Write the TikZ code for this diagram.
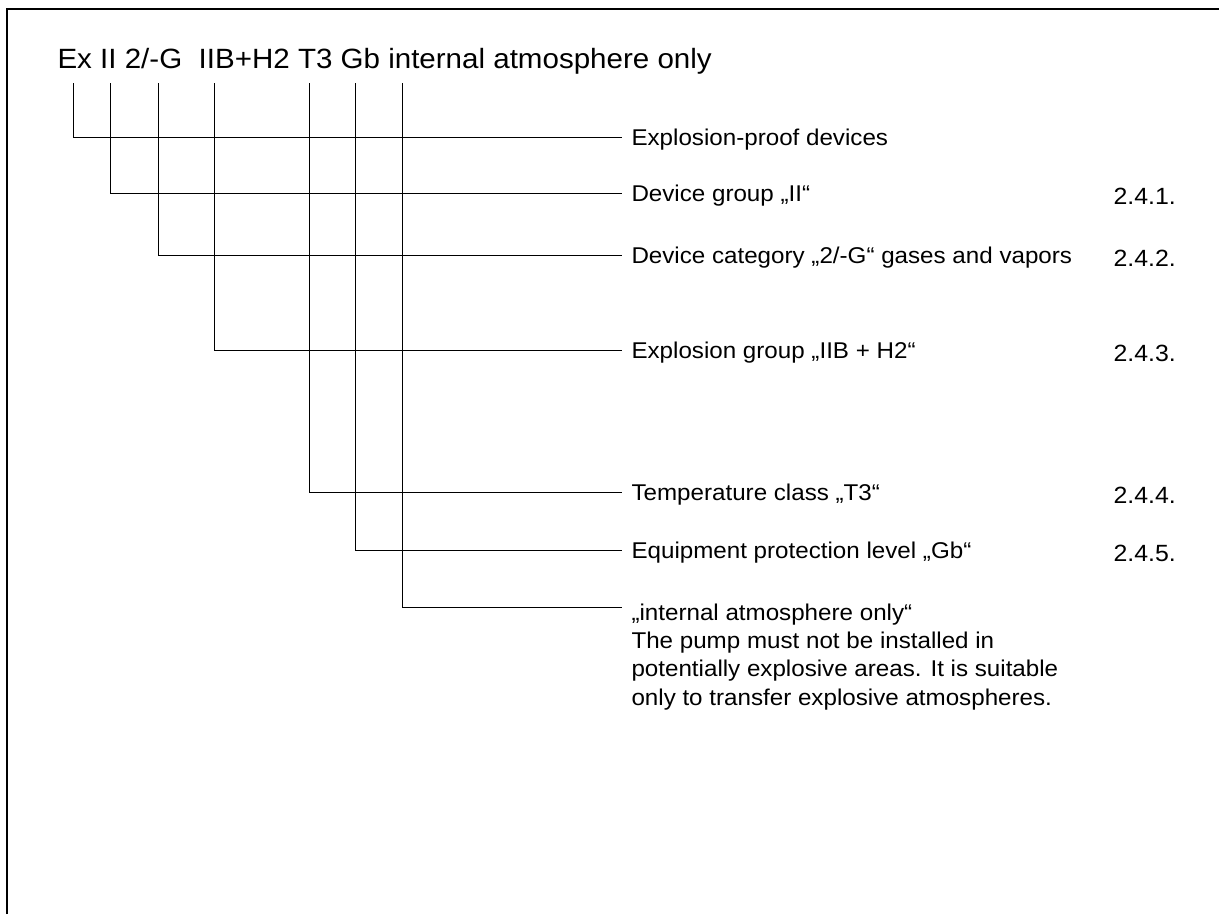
\documentclass[tikz,border=0pt]{standalone}
\usepackage{fontspec}
\setmainfont{Liberation Sans}[FakeStretch=1.06]
\usetikzlibrary{positioning}

\begin{document}
\begin{tikzpicture}[x=0.75pt, y=-0.75pt, line width=0.75pt,
  codetext/.style={font=\fontsize{20.9}{25}\selectfont, inner sep=0pt, anchor=base west},
  labeltext/.style={font=\fontsize{17.1}{21.2}\selectfont, inner sep=0pt, anchor=base west, align=left},
  clausetext/.style={font=\fontsize{17.6}{21}\selectfont, inner sep=0pt, anchor=base west}]
  \useasboundingbox (0,0) rectangle (1219,914);
  % frame, only left and top edges show
  \draw[line width=1.9pt] (7,914) |- (1219,9);
  % marking code
  \node[codetext] (code) at (57,68) {Ex II 2/-G\ \ IIB+H2 T3 Gb internal atmosphere only};
  % tops of the leader lines under the code
  \coordinate (tEx)  at (73,83);
  \coordinate (tII)  at (110.5,83);
  \coordinate (tCat) at (158,83);
  \coordinate (tGrp) at (214,83);
  \coordinate (tTc)  at (309,83);
  \coordinate (tEpl) at (355,83);
  \coordinate (tInt) at (402,83);
  % ends of the leader lines
  \coordinate (eEx)  at (622,137);
  \coordinate (eII)  at (622,193);
  \coordinate (eCat) at (622,255);
  \coordinate (eGrp) at (622,350);
  \coordinate (eTc)  at (622,492);
  \coordinate (eEpl) at (622,550);
  \coordinate (eInt) at (622,607);
  % explanations
  \node[labeltext] (lEx)  at (631,145) {Explosion-proof devices};
  \node[labeltext] (lII)  at (631,201) {Device group „II“};
  \node[labeltext] (lCat) at (631,263) {Device category „2/-G“ gases and vapors};
  \node[labeltext] (lGrp) at (631,358) {Explosion group „IIB + H2“};
  \node[labeltext] (lTc)  at (631,500) {Temperature class „T3“};
  \node[labeltext] (lEpl) at (631,558) {Equipment protection level „Gb“};
  % base of a multi-line node is its last line
  \node[labeltext] (lInt) at (631,705) {„internal atmosphere only“\\The pump must not be installed in\\potentially explosive areas. It is suitable\\only to transfer explosive atmospheres.};
  % clause numbers
  \node[clausetext] (nII)  at (1113,204) {2.4.1.};
  \node[clausetext] (nCat) at (1113,266) {2.4.2.};
  \node[clausetext] (nGrp) at (1113,361) {2.4.3.};
  \node[clausetext] (nTc)  at (1113,503) {2.4.4.};
  \node[clausetext] (nEpl) at (1113,561) {2.4.5.};
  % leader lines
  \draw (tEx)  |- (eEx);
  \draw (tII)  |- (eII);
  \draw (tCat) |- (eCat);
  \draw (tGrp) |- (eGrp);
  \draw (tTc)  |- (eTc);
  \draw (tEpl) |- (eEpl);
  \draw (tInt) |- (eInt);
\end{tikzpicture}
\end{document}
